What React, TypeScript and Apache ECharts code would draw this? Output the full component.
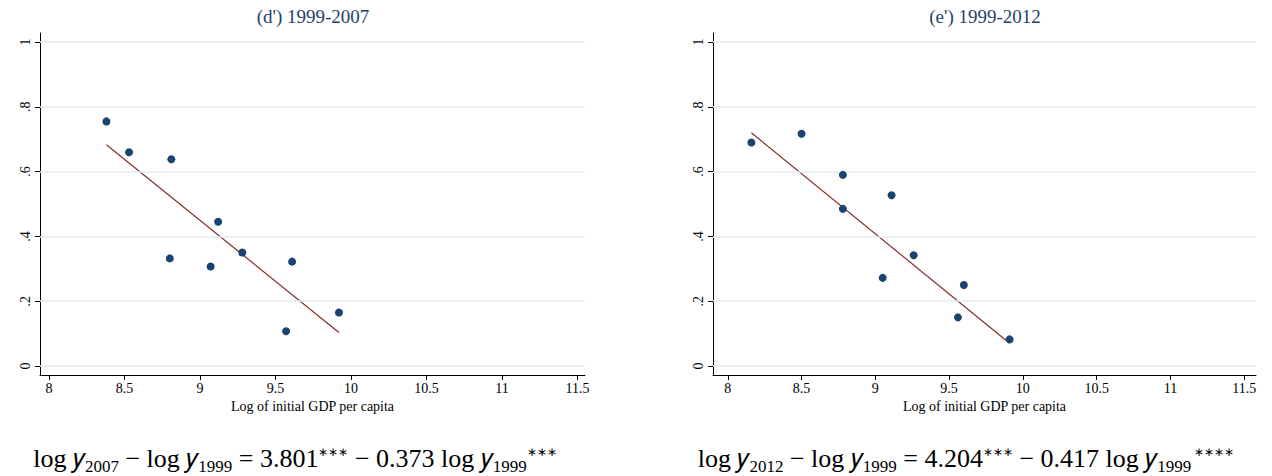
import { useEffect, useRef } from "react";
import * as echarts from "echarts";

const gdpLog2007 = [8.38, 8.53, 8.81, 8.8, 9.07, 9.12, 9.28, 9.57, 9.61, 9.92];
const growth2007 = [0.755, 0.66, 0.638, 0.332, 0.307, 0.445, 0.35, 0.107, 0.322, 0.165];
const gdpLog2012 = [8.16, 8.5, 8.78, 8.78, 9.05, 9.11, 9.26, 9.56, 9.6, 9.91];
const growth2012 = [0.69, 0.717, 0.59, 0.485, 0.272, 0.527, 0.342, 0.15, 0.25, 0.082];
const fit2007 = [[8.38, 0.683], [9.92, 0.103]];
const fit2012 = [[8.16, 0.72], [9.91, 0.07]];
const titles = ["(d') 1999-2007", "(e') 1999-2012"];

const serif = "Liberation Serif";
const navy = "#1f3f6b";

function yLabel(v: number) {
  if (v === 0 || v === 1) return String(v);
  return String(Number(v.toFixed(1))).replace(/^0/, "");
}

function xAxis(idx: number, min: number, max: number): any {
  return {
    type: "value",
    gridIndex: idx,
    min,
    max,
    name: "Log of initial GDP per capita",
    nameLocation: "middle",
    nameGap: 22,
    nameTextStyle: { fontFamily: serif, fontSize: 14, color: "#000" },
    axisLine: { show: true, onZero: false, lineStyle: { color: "#000" } },
    axisTick: { show: true, length: 5, lineStyle: { color: "#000" }, customValues: [8, 8.5, 9, 9.5, 10, 10.5, 11, 11.5] },
    axisLabel: {
      fontFamily: serif, fontSize: 14, color: "#000", margin: 6,
      customValues: [8, 8.5, 9, 9.5, 10, 10.5, 11, 11.5],
      formatter: (v: number) => String(v),
    },
    splitLine: { show: false },
  };
}

function yAxis(idx: number): any {
  return {
    type: "value",
    gridIndex: idx,
    min: -0.028,
    max: 1.028,
    axisLine: { show: true, onZero: false, lineStyle: { color: "#000" } },
    axisTick: { show: true, length: 5, lineStyle: { color: "#000" }, customValues: [0, 0.2, 0.4, 0.6, 0.8, 1] },
    axisLabel: {
      fontFamily: serif, fontSize: 14, color: "#000", rotate: 90, margin: 8,
      customValues: [0, 0.2, 0.4, 0.6, 0.8, 1],
      formatter: yLabel,
    },
    splitLine: { show: false },
  };
}

function gridLines(idx: number): any {
  return {
    type: "line",
    xAxisIndex: idx,
    yAxisIndex: idx,
    silent: true,
    data: [],
    markLine: {
      silent: true,
      symbol: "none",
      label: { show: false },
      lineStyle: { color: "#e3ecee", type: "solid", width: 1.5 },
      data: [0, 0.2, 0.4, 0.6, 0.8, 1].map((y) => ({ yAxis: y })),
    },
  };
}

function scatter(idx: number, xs: number[], ys: number[]): any {
  return {
    type: "scatter",
    xAxisIndex: idx,
    yAxisIndex: idx,
    symbolSize: 8,
    itemStyle: { color: "#1b4370", opacity: 1 },
    data: xs.map((x, i) => [x, ys[i]]),
    z: 5,
  };
}

function fit(idx: number, pts: number[][]): any {
  return {
    type: "line",
    xAxisIndex: idx,
    yAxisIndex: idx,
    symbol: "none",
    lineStyle: { color: "#8b2a2a", width: 1.2 },
    data: pts,
    z: 4,
  };
}

const rich = {
  b: { fontFamily: serif, fontSize: 26, color: "#000" },
  sub: { fontFamily: serif, fontSize: 17, color: "#000", padding: [16, 0, 0, 0] },
  sup: { fontFamily: serif, fontSize: 12, color: "#000", padding: [0, 0, 14, 0] },
};

export default function App() {
  const ref = useRef<HTMLDivElement>(null);

  useEffect(() => {
    if (!ref.current) return;
    const chart = echarts.init(ref.current, undefined, { renderer: "svg" });
    chart.setOption({
      animation: false,
      grid: [
        { left: 40, right: 687, top: 33, bottom: 101 },
        { left: 713, right: 16, top: 33, bottom: 101 },
      ],
      xAxis: [xAxis(0, 7.94, 11.55), xAxis(1, 7.9, 11.58)],
      yAxis: [yAxis(0), yAxis(1)],
      series: [
        gridLines(0), gridLines(1),
        scatter(0, gdpLog2007, growth2007), scatter(1, gdpLog2012, growth2012),
        fit(0, fit2007), fit(1, fit2012),
      ],
      graphic: [
        { type: "text", x: 313, y: 7, style: { text: titles[0], fontFamily: serif, fontSize: 19, fill: navy, align: "center" } },
        { type: "text", x: 985, y: 7, style: { text: titles[1], fontFamily: serif, fontSize: 19, fill: navy, align: "center" } },
        {
          type: "text", x: 295, y: 442,
          style: {
            align: "center",
            text: "{b|log 𝑦}{sub|2007}{b| − log 𝑦}{sub|1999}{b| = 3.801}{sup|∗∗∗}{b| − 0.373 log 𝑦}{sub|1999}{sup|∗∗∗}",
            rich,
          },
        },
        {
          type: "text", x: 966, y: 442,
          style: {
            align: "center",
            text: "{b|log 𝑦}{sub|2012}{b| − log 𝑦}{sub|1999}{b| = 4.204}{sup|∗∗∗}{b| − 0.417 log 𝑦}{sub|1999}{sup| ∗∗∗∗}",
            rich,
          },
        },
      ],
    });
    return () => chart.dispose();
  }, []);

  return <div ref={ref} style={{ position: "absolute", left: 0, top: 0, width: 1272, height: 476 }} />;
}
